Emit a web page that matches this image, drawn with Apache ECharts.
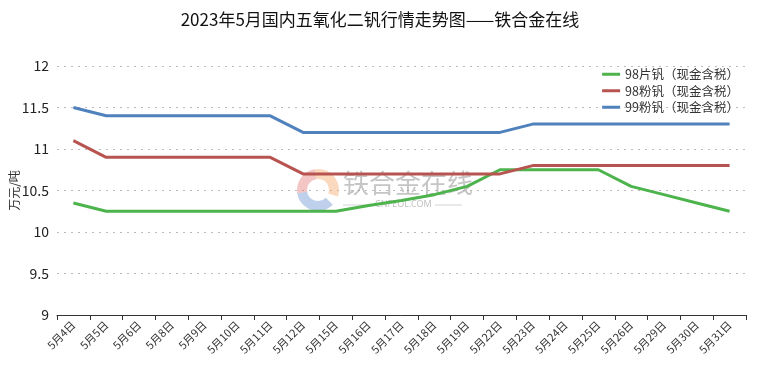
<!DOCTYPE html>
<html><head><meta charset="utf-8">
<script src="https://cdn.jsdelivr.net/npm/echarts@6/dist/echarts.min.js"></script>
<style>html,body{margin:0;padding:0;background:#fff}#c{width:760px;height:375px}</style>
</head><body><div id="c"></div>
<script>
const categories = ['5月4日','5月5日','5月6日','5月8日','5月9日','5月10日','5月11日','5月12日','5月15日','5月16日','5月17日','5月18日','5月19日','5月22日','5月23日','5月24日','5月25日','5月26日','5月29日','5月30日','5月31日'];
const flake98 = [10.35,10.25,10.25,10.25,10.25,10.25,10.25,10.25,10.25,10.32,10.38,10.45,10.55,10.75,10.75,10.75,10.75,10.55,10.45,10.35,10.25];
const powder98 = [11.1,10.9,10.9,10.9,10.9,10.9,10.9,10.7,10.7,10.7,10.7,10.7,10.7,10.7,10.8,10.8,10.8,10.8,10.8,10.8,10.8];
const powder99 = [11.5,11.4,11.4,11.4,11.4,11.4,11.4,11.2,11.2,11.2,11.2,11.2,11.2,11.2,11.3,11.3,11.3,11.3,11.3,11.3,11.3];
const seriesNames = ['98片钒（现金含税）','98粉钒（现金含税）','99粉钒（现金含税）'];
const FONT = '"Noto Sans CJK SC","Noto Sans",sans-serif';
const chart = echarts.init(document.getElementById('c'));
const mk = (name, data, color) => ({
  name, type:'line', data, symbol:'none', smooth:false,
  lineStyle:{color, width:3}, itemStyle:{color}, z:3
});
chart.setOption({
  animation:false,
  title:{text:'2023年5月国内五氧化二钒行情走势图——铁合金在线', left:'center', top:6,
    textStyle:{fontFamily:FONT, fontSize:17, fontWeight:'normal', color:'#111'}},
  legend:{orient:'vertical', right:16, top:63, itemWidth:18, itemHeight:3, itemGap:4,
    icon:'rect', textStyle:{fontFamily:FONT, fontSize:12.5, color:'#333'}},
  grid:{left:57, right:14, top:66, bottom:60, containLabel:false, outerBoundsMode:'none'},
  xAxis:{type:'category', data:categories, boundaryGap:true,
    axisLine:{lineStyle:{color:'#333', width:1}},
    axisTick:{show:true, lineStyle:{color:'#333'}, length:5},
    axisLabel:{rotate:45, interval:0, fontFamily:FONT, fontSize:11, color:'#333', margin:8},
    splitLine:{show:false}},
  yAxis:{type:'value', min:9, max:12, interval:0.5,
    name:'万元/吨', nameLocation:'middle', nameRotate:90, nameGap:43, nameMoveOverlap:false,
    nameTextStyle:{fontFamily:FONT, fontSize:12, color:'#333', verticalAlign:'middle'},
    axisLine:{show:false}, axisTick:{show:false},
    axisLabel:{fontFamily:FONT, fontSize:14, color:'#222', margin:8},
    splitLine:{lineStyle:{color:'#bbb', type:[2,5], width:1}}},
  series:[mk(seriesNames[0], flake98, '#4db34d'), mk(seriesNames[1], powder98, '#b85450'), mk(seriesNames[2], powder99, '#4f81bd')],
  graphic:[
    {type:'sector', shape:{cx:318,cy:190,r:21,r0:11,startAngle:-Math.PI*0.55,endAngle:Math.PI*0.1}, style:{fill:'rgba(245,170,110,0.45)'}, z:1},
    {type:'sector', shape:{cx:318,cy:190,r:21,r0:11,startAngle:Math.PI*0.25,endAngle:Math.PI*0.95}, style:{fill:'rgba(110,150,210,0.45)'}, z:1},
    {type:'sector', shape:{cx:318,cy:190,r:21,r0:11,startAngle:Math.PI*0.95,endAngle:Math.PI*1.45}, style:{fill:'rgba(225,110,110,0.4)'}, z:1},
    {type:'text', left:343, top:170, z:1, style:{text:'铁合金在线', font:'26px "Noto Sans CJK SC"', fill:'rgba(150,150,150,0.55)'}},
    {type:'text', left:375, top:200, z:1, style:{text:'CNFEOL.COM', font:'9px "Noto Sans"', fill:'rgba(150,150,150,0.6)'}},
    {type:'line', shape:{x1:343,y1:205,x2:372,y2:205}, style:{stroke:'rgba(170,170,170,0.5)', lineWidth:1}, z:1},
    {type:'line', shape:{x1:435,y1:205,x2:462,y2:205}, style:{stroke:'rgba(170,170,170,0.5)', lineWidth:1}, z:1}
  ]
});
</script></body></html>
